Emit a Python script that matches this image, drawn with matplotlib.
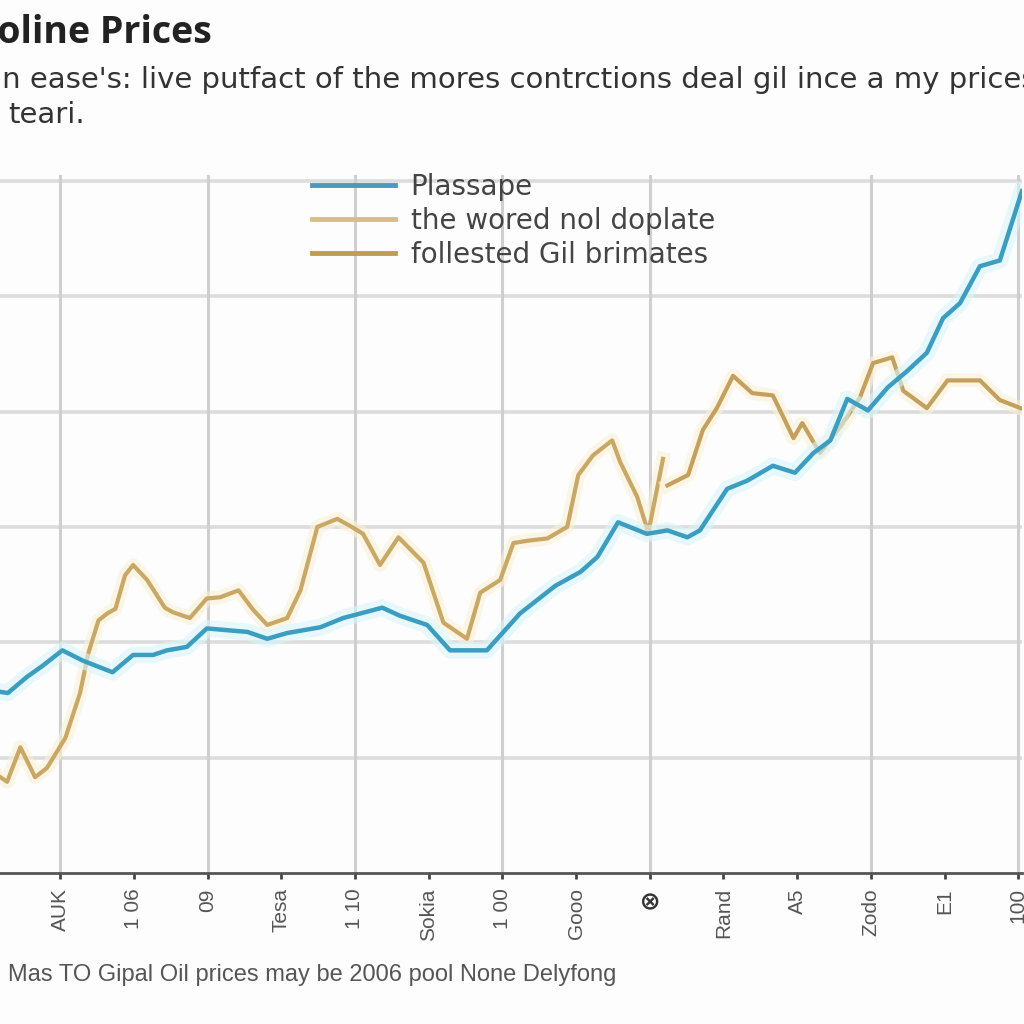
import matplotlib
matplotlib.use("Agg")
import matplotlib.pyplot as plt
import matplotlib.patheffects as pe

# tick labels along the bottom (index -1 is mostly cut off at the left edge)
tick_pos = [-1, 0, 1, 2, 3, 4, 5, 6, 7, 8, 9, 10, 11, 12, 13]
tick_labels = ["1 0", "AUK", "1 06", "09", "Tesa", "1 10", "Sokia", "1 00",
               "Gooo", "\u2297", "Rand", "A5", "Zodo", "E1", "100"]
vgrid_at = [0, 2, 4, 6, 8, 11, 13]

# blue series
blue_x = [-0.81, -0.71, -0.45, -0.23, 0.03, 0.31, 0.71, 0.99, 1.26, 1.45, 1.72,
          1.99, 2.35, 2.54, 2.81, 3.08, 3.53, 3.84, 4.37, 4.61, 4.98, 5.29, 5.79,
          6.24, 6.72, 7.06, 7.29, 7.57, 7.96, 8.24, 8.51, 8.68, 9.05, 9.32, 9.67,
          9.97, 10.22, 10.45, 10.68, 10.96, 11.23, 11.49, 11.76, 11.98, 12.21,
          12.48, 12.75, 13.05]
blue_y = [1.57, 1.56, 1.70, 1.80, 1.93, 1.84, 1.74, 1.89, 1.89, 1.93, 1.96,
          2.12, 2.10, 2.09, 2.03, 2.08, 2.13, 2.21, 2.30, 2.23, 2.15, 1.93, 1.93,
          2.25, 2.49, 2.61, 2.74, 3.04, 2.94, 2.97, 2.91, 2.97, 3.33, 3.40, 3.53,
          3.47, 3.64, 3.75, 4.11, 4.01, 4.21, 4.35, 4.51, 4.81, 4.94,
          5.26, 5.31, 5.91]

# light gold series
gold_a_x = [-0.81, -0.72, -0.54, -0.34, -0.18, 0.07, 0.27, 0.38, 0.52, 0.64,
            0.75, 0.88, 0.99, 1.18, 1.42, 1.53, 1.76, 1.99, 2.17, 2.42, 2.62,
            2.81, 3.08, 3.26, 3.49, 3.76, 3.93, 4.11, 4.34, 4.59, 4.93, 5.20,
            5.52, 5.70, 5.97, 6.15, 6.34, 6.61, 6.88, 7.03, 7.23, 7.49, 7.60,
            7.83, 7.98, 8.18]
gold_a_y = [0.83, 0.79, 1.09, 0.83, 0.91, 1.17, 1.56, 1.90, 2.19, 2.25,
            2.29, 2.58, 2.67, 2.54, 2.30, 2.26, 2.21, 2.38, 2.39, 2.45, 2.28,
            2.15, 2.21, 2.45, 3.00, 3.07, 3.01, 2.94, 2.67, 2.91, 2.69, 2.17,
            2.03, 2.43, 2.54, 2.86, 2.88, 2.90, 3.00, 3.45, 3.62, 3.75, 3.56,
            3.26, 2.95, 3.59]

# darker gold series
gold_b_x = [8.24, 8.52, 8.72, 8.91, 9.13, 9.39, 9.67, 9.95, 10.07, 10.31,
            10.62, 10.85, 11.03, 11.29, 11.44, 11.76, 12.04, 12.48, 12.75, 13.03]
gold_b_y = [3.36, 3.45, 3.84, 4.03, 4.31, 4.16, 4.14, 3.77, 3.90, 3.64,
            3.90, 4.12, 4.42, 4.47, 4.18, 4.03, 4.27, 4.27, 4.10, 4.03]

series_names = ["Plassape", "the wored nol doplate", "follested Gil brimates"]

fig = plt.figure(figsize=(10.24, 10.24), dpi=100)
fig.patch.set_facecolor("#fdfdfd")
ax = fig.add_axes([-0.078, 0.1475, 1.076, 0.6815])
ax.set_facecolor("#fdfdfd")

ax.set_xlim(-1.9, 13.05)
ax.set_ylim(0, 6.05)

# grid
for yv in [1, 2, 3, 4, 5, 6]:
    ax.axhline(yv, color="#dcdcdc", lw=2.6, zorder=0)
for xv in vgrid_at:
    ax.axvline(xv, color="#cfcfcf", lw=2.2, zorder=0)

glow_b = [pe.Stroke(linewidth=12, foreground="#d8f6fb", alpha=0.6), pe.Normal()]
glow_g = [pe.Stroke(linewidth=10, foreground="#fbf1d8", alpha=0.6), pe.Normal()]

ax.plot(blue_x, blue_y, color="#3b9dc0", lw=3.2, label=series_names[0],
        zorder=3, path_effects=glow_b)
ax.plot(gold_a_x, gold_a_y, color="#c9a865", lw=3.0, label=series_names[1],
        zorder=2, path_effects=glow_g)
ax.plot(gold_b_x, gold_b_y, color="#c4a05c", lw=3.0, label=series_names[2],
        zorder=2, path_effects=glow_g)

for s in ["top", "right", "left"]:
    ax.spines[s].set_visible(False)
ax.spines["bottom"].set_color("#555555")
ax.spines["bottom"].set_linewidth(2)

ax.set_yticks([])
ax.set_xticks(tick_pos)
ax.set_xticklabels(tick_labels, rotation=90, fontsize=15, color="#555555",
                   family="Liberation Sans")
ax.tick_params(axis="x", length=4, width=2, color="#444444", pad=7)
ax.get_xticklabels()[9].set_fontweight("bold")
ax.get_xticklabels()[9].set_color("#333333")
ax.get_xticklabels()[9].set_family("DejaVu Sans")
ax.get_xticklabels()[9].set_fontsize(18)

# legend (no frame)
handles, labels = ax.get_legend_handles_labels()
leg_colors = ["#4a9bbb", "#d8bd84", "#c29b55"]
leg = fig.legend(handles, labels, loc="upper left",
                 bbox_to_anchor=(312 / 1024, 1 - 173 / 1024),
                 frameon=False, handlelength=3.0,
                 handletextpad=0.55, labelspacing=0.22, borderpad=0,
                 borderaxespad=0, prop={"family": "DejaVu Sans", "size": 20})
for line, c in zip(leg.get_lines(), leg_colors):
    line.set_color(c)
    line.set_linewidth(3.5)
    line.set_path_effects([])
for t in leg.get_texts():
    t.set_color("#444444")

# titles
fig.text(212 / 1024, 1 - 33 / 1024, "Gasoline Prices", ha="right", va="center",
         fontsize=27, fontweight="bold", color="#222222", family="Open Sans")
fig.text(-6 / 1024, 1 - 80 / 1024,
         "ln ease's: live putfact of the mores contrctions deal gil ince a my prices",
         ha="left", va="center", fontsize=21, color="#333333",
         family="DejaVu Sans")
fig.text(8 / 1024, 1 - 115 / 1024, "teari.", ha="left", va="center",
         fontsize=21, color="#333333", family="DejaVu Sans")
fig.text(8 / 1024, 1 - 975 / 1024,
         "Mas TO Gipal Oil prices may be 2006 pool None Delyfong",
         ha="left", va="center", fontsize=17, color="#555555",
         family="Liberation Sans")

fig.savefig("out.png", dpi=100, facecolor=fig.get_facecolor())
